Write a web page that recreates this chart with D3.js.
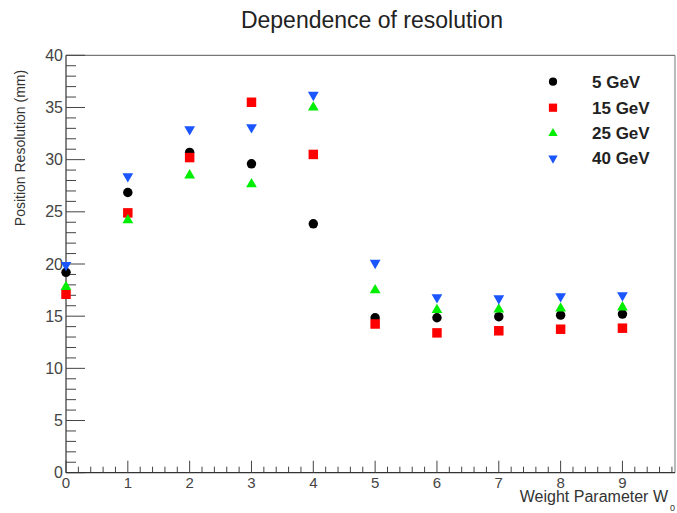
<!DOCTYPE html>
<html><head><meta charset="utf-8">
<script src="https://cdn.jsdelivr.net/npm/d3@7"></script>
<style>body{margin:0;background:#fff}svg{display:block}</style>
</head><body>
<script>
const wValues = [0,1,2,3,4,5,6,7,8,9];
const res5  = [19.2,26.85,30.7,29.6,23.85,14.85,14.85,14.95,15.1,15.2];
const res15 = [17.1,24.9,30.2,35.5,30.5,14.25,13.4,13.6,13.75,13.85];
const res25 = [17.8,24.2,28.5,27.65,35.0,17.5,15.6,15.65,15.75,15.85];
const res40 = [19.9,28.4,32.9,33.1,36.2,20.1,16.8,16.7,16.9,17.0];
const seriesNames = ["5 GeV","15 GeV","25 GeV","40 GeV"];
const xTicks = [0,1,2,3,4,5,6,7,8,9];
const yTicks = [0,5,10,15,20,25,30,35,40];

const W=677,H=513;
const svg=d3.select("body").append("svg").attr("width",W).attr("height",H);
const x=d3.scaleLinear().domain([0,9.85]).range([66,675]);
const y=d3.scaleLinear().domain([0,40]).range([472.7,55.3]);
const font="Liberation Sans, Arial, sans-serif";

// frame top/right
svg.append("line").attr("x1",66).attr("x2",675).attr("y1",55.3).attr("y2",55.3).attr("stroke","#555").attr("stroke-width",1);
svg.append("line").attr("x1",675).attr("x2",675).attr("y1",55.3).attr("y2",472.7).attr("stroke","#777").attr("stroke-width",1);

// y axis
const gy=svg.append("g").attr("transform","translate(66,0)");
gy.append("line").attr("x1",0).attr("x2",0).attr("y1",y(0)).attr("y2",y(40)).attr("stroke","#333").attr("stroke-width",1.2);
d3.range(0,41,1).forEach(v=>{
  const major=v%5===0;
  gy.append("line").attr("x1",0).attr("x2",major?19:10).attr("y1",y(v)).attr("y2",y(v)).attr("stroke","#444").attr("stroke-width",1);
});
gy.selectAll("text").data(yTicks).join("text").attr("x",-3).attr("y",d=>y(d)+5.5)
  .attr("text-anchor","end").attr("font-family",font).attr("font-size",16).attr("fill","#444").text(d=>d);

// x axis
const gx=svg.append("g");
gx.append("line").attr("x1",66).attr("x2",675).attr("y1",y(0)).attr("y2",y(0)).attr("stroke","#333").attr("stroke-width",1.2);
d3.range(0,9.85,0.2).forEach(v=>{
  const major=Math.abs(v-Math.round(v))<1e-6;
  gx.append("line").attr("x1",x(v)).attr("x2",x(v)).attr("y1",y(0)).attr("y2",y(0)-(major?12:6)).attr("stroke","#444").attr("stroke-width",1);
});
gx.selectAll("text").data(xTicks).join("text").attr("x",d=>x(d)).attr("y",488)
  .attr("text-anchor","middle").attr("font-family",font).attr("font-size",15).attr("fill","#444").text(d=>d);

// axis titles
svg.append("text").attr("transform","translate(25,148) rotate(-90)").attr("text-anchor","middle")
  .attr("font-family",font).attr("font-size",14).attr("fill","#333").text("Position Resolution (mm)");
svg.append("text").attr("x",668).attr("y",502).attr("text-anchor","end")
  .attr("font-family",font).attr("font-size",16).attr("fill","#333").text("Weight Parameter W");
svg.append("text").attr("x",670).attr("y",511).attr("font-family",font).attr("font-size",9).attr("fill","#333").text("0");

// title
svg.append("text").attr("x",372).attr("y",28).attr("text-anchor","middle")
  .attr("font-family",font).attr("font-size",23).attr("fill","#222").text("Dependence of resolution");

// markers
const colors=["#000000","#ff0000","#00ee00","#1a55ff"];
const symbols=[d3.symbolCircle,d3.symbolSquare,d3.symbolTriangle,d3.symbolTriangle];
const sizes=[70,90,50,50];
const data=[res5,res15,res25,res40];
function marker(g,i,cx,cy,s){
  g.append("path").attr("d",d3.symbol().type(symbols[i]).size(sizes[i]*s)())
   .attr("transform",`translate(${cx},${cy})`+(i===3?" rotate(180)":""))
   .attr("fill",colors[i]);
}
data.forEach((vals,i)=>{
  const g=svg.append("g");
  vals.forEach((v,j)=>marker(g,i,x(wValues[j]),y(v),1));
});

// legend
const leg=svg.append("g");
const legY=[81.7,107.7,133.3,158.3];
seriesNames.forEach((n,i)=>{
  marker(leg,i,553,legY[i],0.75);
  leg.append("text").attr("x",592).attr("y",legY[i]+6).attr("font-family",font).attr("font-size",17)
    .attr("font-weight","bold").attr("fill","#222").text(n);
});
</script>
</body></html>
